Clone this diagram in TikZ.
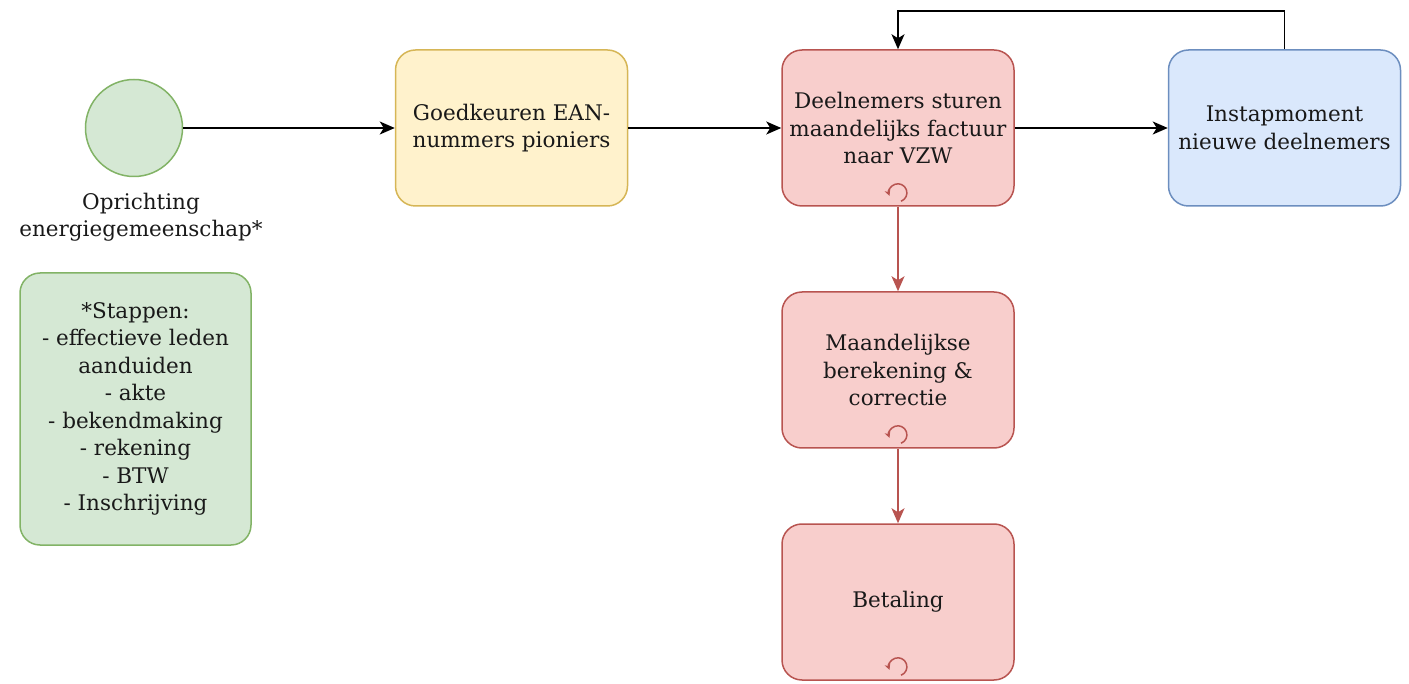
\documentclass[tikz,border=0pt]{standalone}
\usepackage{fontspec}
\setmainfont{DejaVu Serif}
\usetikzlibrary{arrows.meta,calc}

\definecolor{groenvul}{HTML}{D5E8D4}
\definecolor{groenlijn}{HTML}{82B366}
\definecolor{geelvul}{HTML}{FFF2CC}
\definecolor{geellijn}{HTML}{D6B656}
\definecolor{roodvul}{HTML}{F8CECC}
\definecolor{roodlijn}{HTML}{B85450}
\definecolor{blauwvul}{HTML}{DAE8FC}
\definecolor{blauwlijn}{HTML}{6C8EBF}

\tikzset{
  tekst/.style={align=center, text=black!90, inner sep=0pt,
    font=\fontsize{21.5}{27.5}\selectfont},
  taak/.style={tekst, draw, line width=1.5pt, rounded corners=20pt, minimum width=232pt,
    minimum height=156pt},
  pijl/.style={line width=1.5pt, -{Stealth[length=15pt,width=13pt,inset=4pt]}},
  roodpijl/.style={pijl, draw=roodlijn, -{Stealth[length=15pt,width=13pt,inset=4pt,fill=roodlijn]}},
  lus/.style={draw=roodlijn, line width=1.5pt, -{Stealth[length=6pt,width=6pt]}}
}

\begin{document}
\begin{tikzpicture}[x=1pt, y=-1pt]
			\useasboundingbox (0,0) rectangle (1409,684);
			
			%%%%% START %%%%%
			
			\node[circle, draw=groenlijn, fill=groenvul, line width=1.5pt, minimum size=97pt] (start) at (134, 128) {};
			\node[tekst] (startlabel) at (141, 217) {Oprichting\\energiegemeenschap*};
			
			\node[taak, draw=groenlijn, fill=groenvul, minimum width=231pt, minimum height=272pt] (stappen) at (135.5, 409) {*Stappen:\\- effectieve leden\\aanduiden\\- akte\\- bekendmaking\\- rekening\\- BTW\\- Inschrijving};
			
			\node[taak, draw=geellijn, fill=geelvul] (ean) at (511.5, 128) {Goedkeuren EAN-\\nummers pioniers};
			\node[taak, draw=roodlijn, fill=roodvul] (factuur) at (898, 128) {Deelnemers sturen\\maandelijks factuur\\naar VZW};
			\node[taak, draw=blauwlijn, fill=blauwvul] (instap) at (1284.5, 128) {Instapmoment\\nieuwe deelnemers};
			\node[taak, draw=roodlijn, fill=roodvul] (berekening) at (898, 370) {Maandelijkse\\berekening \&\\correctie};
			\node[taak, draw=roodlijn, fill=roodvul] (betaling) at (898, 602) {Betaling};
			
			% lusmarkeringen
			\draw[lus] ($(factuur.south)+(3,-5.5)$) arc[start angle=70, end angle=-200, radius=9];
			\draw[lus] ($(berekening.south)+(3,-5.5)$) arc[start angle=70, end angle=-200, radius=9];
			\draw[lus] ($(betaling.south)+(3,-5.5)$) arc[start angle=70, end angle=-200, radius=9];
			
			\draw[pijl] (start) -- (ean);
			\draw[pijl] (ean) -- (factuur);
			\draw[pijl] (factuur) -- (instap);
			\draw[pijl] (instap.north) -- ++(0,-38) -| (factuur.north);
			
			\draw[roodpijl] (factuur) -- (berekening);
			\draw[roodpijl] (berekening) -- (betaling);
			
			%%%%% END %%%%%
\end{tikzpicture}
\end{document}
